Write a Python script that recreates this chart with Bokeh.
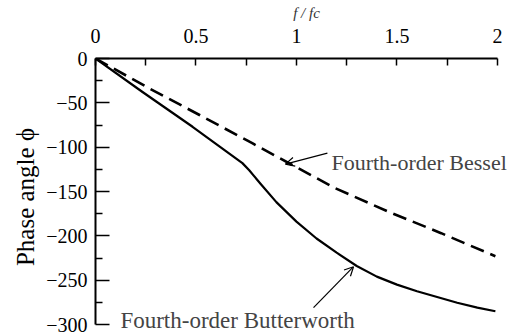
from bokeh.plotting import figure
from bokeh.models import Range1d, FixedTicker, Label, Arrow, OpenHead
from bokeh.embed import file_html
from bokeh.resources import INLINE

# Normalised frequency f/fc and phase angle (degrees)
bessel_f = [0.0, 0.27, 0.52, 0.78, 0.97, 1.19, 1.47, 1.72, 1.99]
bessel_phi = [0.0, -34, -64, -95.5, -119, -146, -174, -197, -223]

butter_f = [0.0, 0.234, 0.483, 0.731, 0.765, 0.82, 0.9, 1.0, 1.1, 1.2, 1.3,
            1.4, 1.5, 1.6, 1.7, 1.8, 1.9, 1.99]
butter_phi = [0.0, -37.8, -77, -118, -126, -141, -162, -184, -203, -219, -234,
              -246, -255, -262.5, -269, -275.5, -281, -285]

x_ticks = [0, 0.5, 1, 1.5, 2]
x_minor = [0.25, 0.75, 1.25, 1.75]
x_labels = ["0", "0.5", "1", "1.5", "2"]
y_ticks = [0, -50, -100, -150, -200, -250, -300]
y_minor = [-25, -75, -125, -175, -225, -275]
y_labels = ["0", "\u221250", "\u2212100", "\u2212150", "\u2212200", "\u2212250", "\u2212300"]

SERIF = "Liberation Serif"

# The frame runs past the drawn axes (x to 2.1, y below -300) so that the
# captions on the right and at the bottom are not clipped; axis bounds keep
# the axis lines at 0..2 and 0..-300.
p = figure(width=517, height=335, output_backend="svg", toolbar_location=None,
           x_range=Range1d(0, 2.1), y_range=Range1d(-312.4, 0),
           x_axis_location="above", y_axis_location="left",
           min_border_left=95, min_border_right=0, min_border_top=58, min_border_bottom=0)
p.outline_line_color = None
p.grid.visible = False
p.background_fill_color = "white"
p.border_fill_color = "white"

xa = p.xaxis[0]
xa.ticker = FixedTicker(ticks=x_ticks, minor_ticks=x_minor)
xa.bounds = (0, 2)
xa.major_label_overrides = dict(zip(x_ticks, x_labels))
xa.axis_label = "f / fc"
xa.axis_label_text_font = SERIF
xa.axis_label_text_font_style = "italic"
xa.axis_label_text_font_size = "15px"
xa.axis_label_text_color = "#333333"
xa.axis_label_standoff = 5

ya = p.yaxis[0]
ya.ticker = FixedTicker(ticks=y_ticks, minor_ticks=y_minor)
ya.bounds = (-300, 0)
ya.major_label_overrides = dict(zip(y_ticks, y_labels))
ya.axis_label = "Phase angle \u03d5"
ya.axis_label_text_font = SERIF
ya.axis_label_text_font_style = "normal"
ya.axis_label_text_font_size = "25px"
ya.axis_label_text_color = "black"
ya.axis_label_standoff = 4

for ax in (xa, ya):
    ax.axis_line_width = 2
    ax.axis_line_color = "black"
    ax.major_tick_out = 0
    ax.minor_tick_out = 0
    ax.major_tick_line_color = "black"
    ax.minor_tick_line_color = "black"
    ax.major_tick_line_width = 1.5
    ax.minor_tick_line_width = 1.5
    ax.major_label_text_font = SERIF
    ax.major_label_text_font_size = "20px"
    ax.major_label_text_color = "black"

xa.major_label_standoff = 16
ya.major_label_standoff = 8
xa.major_tick_in = 7
xa.minor_tick_in = 7
ya.major_tick_in = 14
ya.minor_tick_in = 7

p.line(bessel_f, bessel_phi, line_color="black", line_width=2.6, line_dash="14 7")
p.line(butter_f, butter_phi, line_color="black", line_width=2.2, line_join="round")

p.add_layout(Label(x=1.174, y=-117, text="Fourth-order Bessel", text_font=SERIF,
                   text_font_size="22px", text_baseline="middle", text_align="left"))
p.add_layout(Label(x=0.124, y=-296, text="Fourth-order Butterworth", text_font=SERIF,
                   text_font_size="23px", text_baseline="middle", text_align="left"))

p.add_layout(Arrow(end=OpenHead(size=9, line_width=1.2), line_width=1.2,
                   x_start=1.154, y_start=-106.7, x_end=0.945, y_end=-119.1))
p.add_layout(Arrow(end=OpenHead(size=9, line_width=1.2), line_width=1.2,
                   x_start=1.085, y_start=-281, x_end=1.284, y_end=-234.8))

open("out.html", "w").write(file_html(p, INLINE))
